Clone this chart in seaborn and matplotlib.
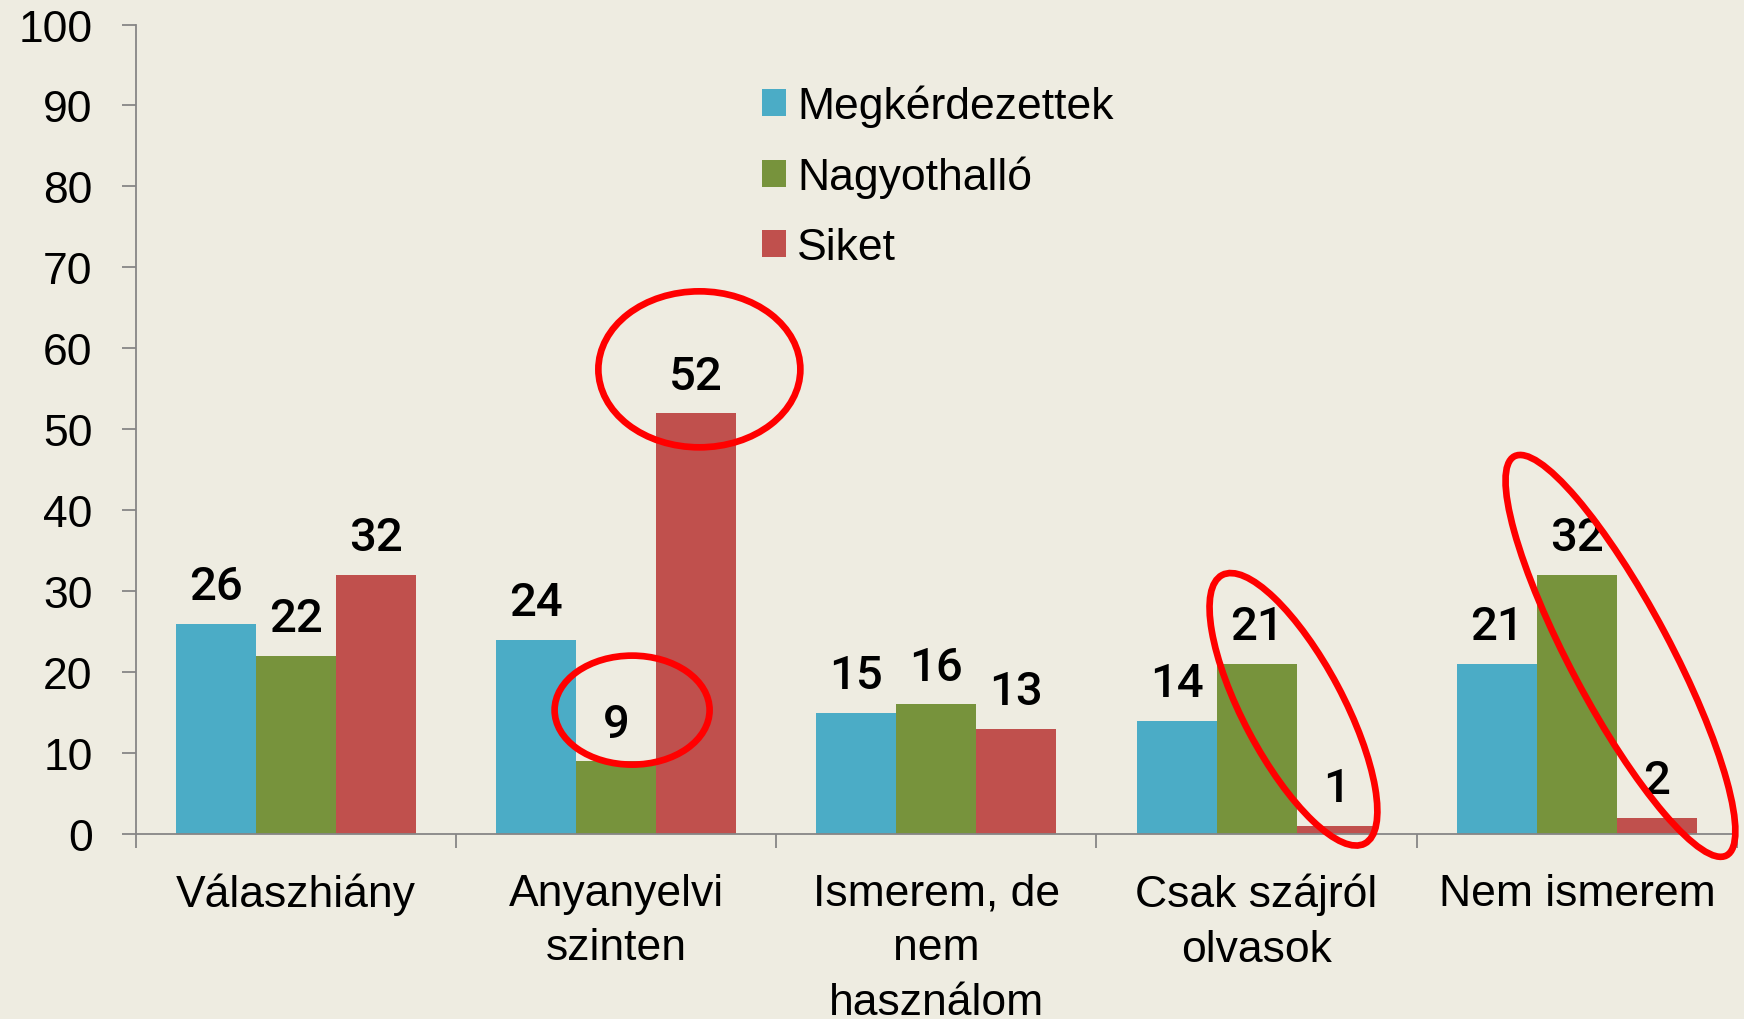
import matplotlib
matplotlib.use("Agg")
import matplotlib.pyplot as plt
import matplotlib.transforms as mtransforms
from matplotlib.patches import Ellipse
from matplotlib.ticker import FixedLocator
import pandas as pd
import seaborn as sns

# data
categories = ["Válaszhiány", "Anyanyelvi\nszinten", "Ismerem, de\nnem\nhasználom",
              "Csak szájról\nolvasok", "Nem ismerem"]
groups = ["Megkérdezettek", "Nagyothalló", "Siket"]
megkerdezettek = [26, 24, 15, 14, 21]
nagyothallo = [22, 9, 16, 21, 32]
siket = [32, 52, 13, 1, 2]
colors = ["#4BACC6", "#77933C", "#C0504D"]
yticks = list(range(0, 101, 10))

# red hand-drawn highlights: centre (data coords), size in px, angle
highlights = [
    (1.26, 57.4, 202, 156, 0),
    (1.05, 15.3, 155, 109, 0),
    (3.115, 15.4, 304, 100, 118),
    (4.136, 22.0, 452, 100, 118),
]

bg = "#EEECE1"
axis_gray = "#868686"

df = pd.DataFrame({
    "kategoria": categories * 3,
    "csoport": [g for g in groups for _ in categories],
    "ertek": megkerdezettek + nagyothallo + siket,
})

sns.set_theme(style="white")
plt.rcParams["font.family"] = ["Liberation Sans", "DejaVu Sans"]
plt.rcParams["text.color"] = "black"
plt.rcParams["xtick.color"] = "black"
plt.rcParams["ytick.color"] = "black"

fig, ax = plt.subplots(figsize=(17.44, 10.2), dpi=100)
fig.patch.set_facecolor(bg)
ax.set_facecolor(bg)
fig.subplots_adjust(left=0.0778, right=0.996, bottom=0.1814, top=0.975)

sns.barplot(data=df, x="kategoria", y="ertek", hue="csoport", order=categories,
            hue_order=groups, palette=colors, saturation=1, width=0.75,
            linewidth=0, errorbar=None, ax=ax)

# value labels above each bar
for bar in ax.patches:
    h = bar.get_height()
    if bar.get_width() == 0 or pd.isna(h):
        continue
    ax.annotate(f"{h:.0f}", (bar.get_x() + bar.get_width() / 2, h),
                xytext=(0, 27), textcoords="offset points", ha="center", va="center",
                fontsize=34, fontweight=500, family=["Roboto", "Liberation Sans"],
                color="black", zorder=5)

ax.set_ylim(0, 100)
ax.set_xlim(-0.5, len(categories) - 0.5)
ax.set_yticks(yticks)
ax.set_xlabel("")
ax.set_ylabel("")

for side in ["top", "right"]:
    ax.spines[side].set_visible(False)
for side in ["left", "bottom"]:
    ax.spines[side].set_color(axis_gray)
    ax.spines[side].set_linewidth(1.3)

ax.tick_params(axis="y", direction="out", length=10, width=1.3, color=axis_gray,
               labelcolor="black", labelsize=32, pad=21, left=True)
ax.tick_params(axis="x", which="major", length=0, labelcolor="black", labelsize=32, pad=28)
ax.xaxis.set_minor_locator(FixedLocator([i - 0.5 for i in range(len(categories) + 1)]))
ax.tick_params(axis="x", which="minor", direction="out", length=10, width=1.3,
               color=axis_gray, bottom=True)
for lbl in ax.get_xticklabels():
    lbl.set_linespacing(1.42)

handles, labels = ax.get_legend_handles_labels()
ax.legend(handles, labels, loc="upper left", bbox_to_anchor=(0.391, 0.926),
          frameon=False, fontsize=32, handlelength=0.55, handleheight=0.55,
          handletextpad=0.25, labelspacing=0.65, borderpad=0, borderaxespad=0,
          labelcolor="black")

for cx, cy, w, h, ang in highlights:
    tr = fig.dpi_scale_trans + mtransforms.ScaledTranslation(cx, cy, ax.transData)
    ax.add_patch(Ellipse((0, 0), w / 100, h / 100, angle=ang, transform=tr,
                         fill=False, edgecolor="#FF0000", linewidth=4.8,
                         zorder=6, clip_on=False))

plt.savefig("out.png", dpi=100, facecolor=bg)
plt.close()
